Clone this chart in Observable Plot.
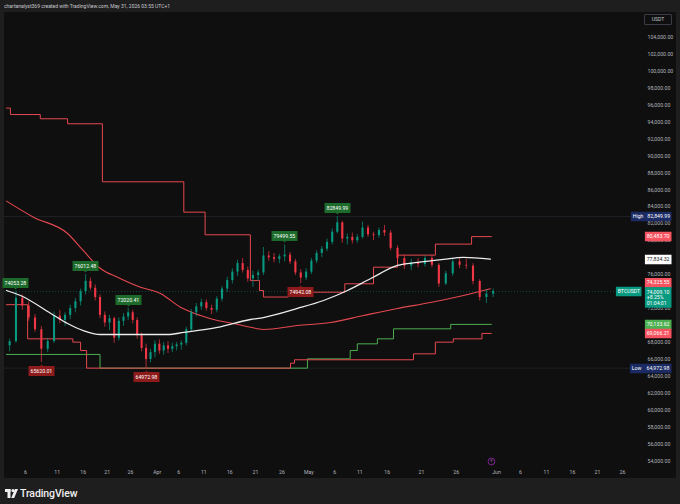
<!DOCTYPE html>
<html><head><meta charset="utf-8">
<script src="https://cdn.jsdelivr.net/npm/d3@7"></script>
<script src="https://cdn.jsdelivr.net/npm/@observablehq/plot@0.6"></script>
<style>
html,body{margin:0;padding:0;background:#1e1e1e;}
#wrap{position:relative;width:680px;height:504px;background:#1e1e1e;overflow:hidden;font-family:Roboto,"DejaVu Sans",sans-serif;}
#hdr{position:absolute;left:4px;top:3px;font-size:5px;color:#c8cad0;line-height:6px;white-space:nowrap;}
#pane{position:absolute;left:4px;top:12px;width:672px;height:466px;background:#0f0f0f;}
#usdt{position:absolute;left:640px;top:2px;width:26px;height:9px;border:1px solid #3a3d45;border-radius:1px;color:#c8cad0;font-size:5px;line-height:9px;text-align:center;}
#foot{position:absolute;left:5px;top:486px;height:14px;display:flex;align-items:center;gap:2px;color:#f0f0f0;font-size:10.5px;font-weight:500;letter-spacing:-0.1px;}
</style></head>
<body>
<div id="wrap">
  <div id="hdr">chartanalyst369 created with TradingView.com, May 31, 2026 03:55 UTC+1</div>
  <div id="pane"><div id="usdt">USDT</div></div>
  <div id="foot"><svg width="13" height="9" viewBox="0 0 13 9"><rect x="0" y="0" width="5.5" height="3" fill="#f0f0f0"/><rect x="2.5" y="0" width="3" height="9" fill="#f0f0f0"/><circle cx="8" cy="1.6" r="1.6" fill="#f0f0f0"/><polygon points="10,0 13,0 9.2,9 6.2,9" fill="#f0f0f0"/></svg><span>TradingView</span></div>
</div>
<script>
// ---- data ----
const candleStart = "2026-03-03";
const candleOpen  = [67600,68100,73200,72300,70900,69500,67200,68100,71100,70600,71200,72000,72800,74000,75200,74400,73300,71200,70300,70800,68500,70500,71000,71500,70600,68800,67300,66000,66800,67800,67000,67600,67200,67500,67700,67900,69500,71500,72200,72700,72000,71800,73100,74300,75300,76300,77300,76500,75500,75900,76200,78200,78000,77800,78100,78300,77500,76200,75600,76300,77600,78500,79000,79800,81000,82100,80200,80400,80000,80400,81500,80700,80600,81200,80900,79100,77900,77000,77400,77200,77900,77100,74900,76100,77500,77100,77000,75200,73300,73700];
const candleHigh  = [68400,74053.28,73600,72800,71300,69900,68500,71600,71800,71500,72400,73200,74300,76012.48,75600,74800,73600,71600,71200,71000,70900,71400,72020.41,71800,70900,69100,67800,67200,68200,68300,68000,68100,67900,68000,68200,69800,71900,72600,73100,73000,72400,73400,74600,75700,76700,77700,77900,76900,76400,76500,79200,78700,78500,78400,79499.55,78600,77800,76600,76700,77900,78800,79300,80200,81400,82849.99,82300,80800,80900,80700,82200,81800,81000,81500,81800,81200,79400,78300,77800,77900,78200,78300,77300,76400,77900,77900,77800,77300,75400,74200,74300];
const candleLow   = [66900,67900,71800,70500,69200,65620.01,66800,67900,70200,69900,70700,71500,72300,73600,74100,72900,70800,69800,69400,67900,68200,69900,70600,70200,68400,66900,64972.98,65600,66200,66600,66500,66700,66800,67000,67100,67600,69200,71000,71800,71700,71300,71500,72800,73900,74900,75800,76200,75100,74500,75200,75900,77600,77400,77300,77500,77200,75900,74942.08,75300,76000,77300,78000,78700,79500,80800,79700,79500,79600,79700,80200,80400,80000,80300,80500,78800,77600,76600,76500,76800,76900,76800,74500,74700,75800,76700,76600,74800,72900,72600,73300];
const candleClose = [68100,73200,72300,70900,69500,67200,68100,71100,70600,71200,72000,72800,74000,75200,74400,73300,71200,70300,70800,68500,70500,71000,71500,70600,68800,67300,66000,66800,67800,67000,67600,67200,67500,67700,67900,69500,71500,72200,72700,72000,71800,73100,74300,75300,76300,77300,76500,75500,75900,76200,78200,78000,77800,78100,78300,77500,76200,75600,76300,77600,78500,79000,79800,81000,82100,80200,80400,80000,80400,81500,80700,80600,81200,80900,79100,77900,77000,77400,77200,77900,77100,74900,76100,77500,77100,77000,75200,73300,73700,74009.10];

const upperStepDates  = ["2026-03-03","2026-03-03T15:00","2026-03-08T08:00","2026-03-13","2026-03-20","2026-04-07","2026-04-11T06:00","2026-04-20","2026-04-21T18:00","2026-04-22T12:00","2026-04-27T05:00","2026-05-08","2026-05-13T12:00","2026-05-17T12:00","2026-05-23","2026-05-28T07:00","2026-05-31T06:00"];
const upperStepValues = [95640,94880,94380,93790,86950,83370,80700,75300,74130,73360,73930,74920,76880,78300,79600,80483.70,80483.70];

const lowerStepDates  = ["2026-03-03","2026-03-06T08:00","2026-03-14","2026-03-15T12:00","2026-03-16T17:00","2026-04-27T14:00","2026-04-28T08:00","2026-05-19T20:00","2026-05-23","2026-05-25T14:00","2026-05-29T20:00","2026-05-31T06:00"];
const lowerStepValues = [72460,68430,68040,67050,64972.98,65560,65960,66660,68040,68430,69066.21,69066.21];

const greenStepDates  = ["2026-03-03","2026-03-19T12:00","2026-04-30T18:00","2026-05-09T02:00","2026-05-10T12:00","2026-05-14T05:00","2026-05-16T22:00","2026-05-25T05:00","2026-05-31T06:00"];
const greenStepValues = [66590,64972.98,66070,67050,67840,68430,69610,70133.62,70133.62];

const redMaDates  = ["2026-03-03","2026-03-07T06:00","2026-03-13","2026-03-16","2026-03-19T14:00","2026-03-23T05:00","2026-03-28T06:00","2026-04-01T18:00","2026-04-06T08:00","2026-04-10T08:00","2026-04-13T15:00","2026-04-16T17:00","2026-04-20","2026-04-22T12:00","2026-04-28T21:00","2026-05-05T04:00","2026-05-11T16:00","2026-05-17T12:00","2026-05-22T07:00","2026-05-27T02:00","2026-05-31T02:00"];
const redMaValues = [84670,82780,80850,78850,76730,75700,74520,73780,72160,71180,70590,70240,69800,69530,70000,70350,71180,72010,72710,73540,74325.55];

const whiteMaDates  = ["2026-03-03","2026-03-05T05:00","2026-03-10","2026-03-13","2026-03-16","2026-03-19T14:00","2026-03-26T16:00","2026-04-03T10:00","2026-04-07","2026-04-13T15:00","2026-04-20","2026-04-22T12:00","2026-04-28T21:00","2026-05-03T20:00","2026-05-08T13:00","2026-05-13","2026-05-17T12:00","2026-05-20T10:00","2026-05-24T04:00","2026-05-27T02:00","2026-05-31T02:00"];
const whiteMaValues = [74130,73540,71420,70240,69410,68940,68940,68940,69180,69770,70710,70940,72010,72950,74130,75540,77080,77440,77790,78030,77834.32];

const peakDates  = ["2026-03-04","2026-03-16","2026-03-25","2026-04-26","2026-05-06","2026-03-08","2026-03-29","2026-04-29"];
const peakValues = [74053.28,76012.48,72020.41,79499.55,82849.99,65620.01,64972.98,74942.08];
const peakKinds  = ["high","high","high","high","high","low","low","low"];

const xTickDates = ["2026-03-06","2026-03-11","2026-03-16","2026-03-21","2026-03-26","2026-04-01","2026-04-06","2026-04-11","2026-04-16","2026-04-21","2026-04-26","2026-05-01","2026-05-06","2026-05-11","2026-05-16","2026-05-21","2026-05-26","2026-06-01","2026-06-06","2026-06-11","2026-06-16","2026-06-21","2026-06-26"];
const yTicks = d3.range(54000, 104001, 2000);

const rightLabelPrices = [82849.99, 80483.70, 77834.32, 74325.55, 70133.62, 69066.21, 64972.98];
const rightLabelTexts  = ["High   82,849.99", "80,483.70", "77,834.32", "74,325.55", "70,133.62", "69,066.21", "Low    64,972.98"];
const rightLabelFills  = ["#1b2a63", "#f7525f", "#ffffff", "#f7525f", "#4caf50", "#f7525f", "#1b2a63"];
const rightLabelInk    = ["#ffffff", "#ffffff", "#131722", "#ffffff", "#ffffff", "#ffffff", "#ffffff"];
const rightLabelShift  = [0, 0, 0, -5.6, 0, 0, 0];
const lastPrice = 74009.10;
const lastLabel = "74,009.10\n+8.25%\n01:04:01";
const eventDate = "2026-05-31T06:00";

// ---- build ----
const D = s => new Date(s + (s.length === 10 ? "T00:00:00Z" : ":00Z"));
const t0 = D(candleStart);
const candles = candleOpen.map((o, i) => ({
  date: new Date(+t0 + (i + 0.5) * 864e5), open: o, high: candleHigh[i], low: candleLow[i], close: candleClose[i]
}));
const up = "#089981", down = "#f23645";
const toSeries = (ds, vs) => ds.map((d, i) => ({date: D(d), value: vs[i]}));
const upperStep = toSeries(upperStepDates, upperStepValues);
const lowerStep = toSeries(lowerStepDates, lowerStepValues);
const greenStep = toSeries(greenStepDates, greenStepValues);
const redMa = toSeries(redMaDates, redMaValues);
const whiteMa = toSeries(whiteMaDates, whiteMaValues);
const peaks = peakDates.map((d, i) => ({date: new Date(+D(d) + 12 * 36e5), value: peakValues[i], kind: peakKinds[i]}));
const ticks = xTickDates.map(D);

const xDomain = [D("2026-03-02"), ...ticks, D("2026-07-01")];
const xRange = [-4.4, 21, 52.7, 78.7, 102.7, 126, 152.7, 174.3, 199.3, 225.3, 251, 277.5, 304.3, 330.3, 355.3, 382.7, 417, 451.7, 492, 516, 542, 568, 593, 618, 643];

const tipBase = {stroke: "none", pointerSize: 0, textPadding: 1.8, fontSize: 5.2, lineHeight: 1.1, pathFilter: "none", fontFamily: "Roboto"};

const rightMarks = rightLabelPrices.map((p, i) =>
  Plot.tip([p], {y: d => d, frameAnchor: "right", anchor: "right", dx: 29, dy: rightLabelShift[i],
    title: () => rightLabelTexts[i], fill: rightLabelFills[i], ...tipBase}));

const chart = Plot.plot({
  width: 672, height: 466,
  marginLeft: 0, marginRight: 34, marginTop: 0, marginBottom: 11,
  style: {background: "transparent", color: "#ffffff", fontFamily: "Roboto, 'DejaVu Sans', sans-serif", overflow: "visible"},
  x: {type: "utc", domain: xDomain, range: xRange},
  y: {domain: [54000, 104000], range: [448.7, 24.7]},
  marks: [
    Plot.ruleY([82849.99, 64972.98], {stroke: "#1f2126", strokeWidth: 1}),
    Plot.ruleY([lastPrice], {stroke: up, strokeOpacity: 0.5, strokeDasharray: "1,2", strokeWidth: 0.8}),
    Plot.axisX(ticks, {anchor: "bottom", tickSize: 0, tickPadding: 3, fontSize: 5.2, fill: "#b2b5be", label: null,
      tickFormat: d => d.getUTCDate() === 1 ? d3.utcFormat("%b")(d) : String(d.getUTCDate())}),
    Plot.axisY(yTicks, {anchor: "right", tickSize: 0, tickPadding: 5, fontSize: 5.2, fill: "#b2b5be", label: null,
      tickFormat: d => d3.format(",.2f")(d)}),
    Plot.line(greenStep, {x: "date", y: "value", curve: "step-after", stroke: "#4caf50", strokeWidth: 1}),
    Plot.line(upperStep, {x: "date", y: "value", curve: "step-after", stroke: "#e5484f", strokeWidth: 1}),
    Plot.line(lowerStep, {x: "date", y: "value", curve: "step-after", stroke: "#e5484f", strokeWidth: 1}),
    Plot.line(redMa, {x: "date", y: "value", curve: "monotone-x", stroke: "#e5484f", strokeWidth: 1.1}),
    Plot.ruleX(candles, {filter: d => d.close >= d.open, x: "date", y1: "low", y2: "high", stroke: up, strokeWidth: 0.7}),
    Plot.ruleX(candles, {filter: d => d.close < d.open, x: "date", y1: "low", y2: "high", stroke: down, strokeWidth: 0.7}),
    Plot.ruleX(candles, {filter: d => d.close >= d.open, x: "date", y1: "open", y2: "close", stroke: up, strokeWidth: 2.1}),
    Plot.ruleX(candles, {filter: d => d.close < d.open, x: "date", y1: "open", y2: "close", stroke: down, strokeWidth: 2.1}),
    Plot.line(whiteMa, {x: "date", y: "value", curve: "monotone-x", stroke: "#ececec", strokeWidth: 1.3}),
    Plot.tip(peaks.filter(d => d.kind === "high"), {x: "date", y: "value", anchor: "bottom", dy: -2,
      title: d => d.value.toFixed(2), fill: "#1c6b2a", stroke: "none", pointerSize: 3, textPadding: 2, fontSize: 5.2, pathFilter: "none"}),
    Plot.tip(peaks.filter(d => d.kind === "low"), {x: "date", y: "value", anchor: "top", dy: 2,
      title: d => d.value.toFixed(2), fill: "#8e1b1b", stroke: "none", pointerSize: 3, textPadding: 2, fontSize: 5.2, pathFilter: "none"}),
    Plot.dot([D(eventDate)], {x: d => d, frameAnchor: "bottom", dy: -6, r: 3.4, stroke: "#9c27b0", fill: "#0f0f0f", strokeWidth: 0.8}),
    Plot.text([D(eventDate)], {x: d => d, frameAnchor: "bottom", dy: -6, text: () => "F", fontSize: 3.8, fill: "#ba68c8"}),
    ...rightMarks,
    Plot.tip([lastPrice], {y: d => d, frameAnchor: "right", anchor: "right", dx: -1, title: () => "BTCUSDT", fill: up, ...tipBase}),
    Plot.tip([lastPrice], {y: d => d, frameAnchor: "right", anchor: "top-right", dx: 29, dy: -4.4, title: () => lastLabel, fill: up, ...tipBase})
  ]
});
chart.style.position = "absolute";
chart.style.left = "0px";
chart.style.top = "0px";
document.getElementById("pane").appendChild(chart);

function recolor() {
  chart.querySelectorAll("text").forEach(t => {
    const s = t.textContent;
    rightLabelTexts.forEach((lbl, i) => {
      if (rightLabelInk[i] !== "#ffffff" && s.includes(lbl)) {
        t.setAttribute("fill", rightLabelInk[i]);
        t.style.fill = rightLabelInk[i];
        t.querySelectorAll("tspan").forEach(sp => { sp.setAttribute("fill", rightLabelInk[i]); sp.style.fill = rightLabelInk[i]; });
      }
    });
  });
}
recolor();
requestAnimationFrame(recolor);
setTimeout(recolor, 50);
</script>
</body></html>
